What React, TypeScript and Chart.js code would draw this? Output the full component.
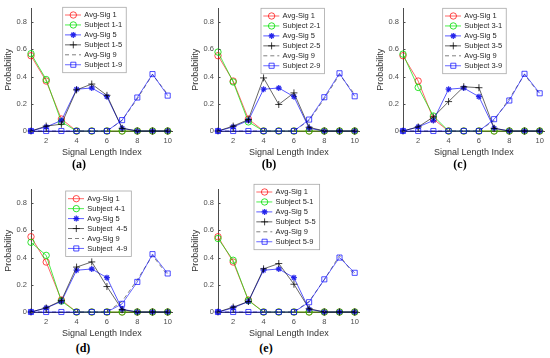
import React, { useEffect, useRef } from 'react';
import { Chart, registerables } from 'chart.js';
import { drawPoint } from 'chart.js/helpers';

Chart.register(...registerables);

// ---------------- data ----------------
const signalIndex = [1, 2, 3, 4, 5, 6, 7, 8, 9, 10];
const xTickValues = [2, 4, 6, 8, 10];
const yTickValues = [0, 0.2, 0.4, 0.6, 0.8];

const avgSig1 = [0.553, 0.367, 0.088, 0, 0, 0, 0, 0, 0, 0];
const avgSig5 = [0, 0.03, 0.077, 0.307, 0.316, 0.252, 0.02, 0, 0, 0];
const avgSig9 = [0, 0, 0, 0, 0, 0, 0.078, 0.237, 0.415, 0.27];

const subject1_1 = [0.568, 0.378, 0.067, 0, 0, 0, 0, 0, 0, 0];
const subject1_5 = [0, 0.036, 0.05, 0.302, 0.345, 0.262, 0.02, 0, 0, 0];
const subject1_9 = [0, 0, 0, 0, 0, 0, 0.08, 0.246, 0.418, 0.26];

const subject2_1 = [0.58, 0.36, 0.067, 0, 0, 0, 0, 0, 0, 0];
const subject2_5 = [0, 0.036, 0.084, 0.39, 0.195, 0.28, 0.027, 0, 0, 0];
const subject2_9 = [0, 0, 0, 0, 0, 0, 0.084, 0.248, 0.424, 0.255];

const subject3_1 = [0.565, 0.32, 0.11, 0, 0, 0, 0, 0, 0, 0];
const subject3_5 = [0, 0.03, 0.103, 0.216, 0.325, 0.318, 0.02, 0, 0, 0];
const subject3_9 = [0, 0, 0, 0, 0, 0, 0.087, 0.224, 0.42, 0.277];

const subject4_1 = [0.512, 0.416, 0.08, 0, 0, 0, 0, 0, 0, 0];
const subject4_5 = [0, 0.03, 0.084, 0.33, 0.368, 0.187, 0.017, 0, 0, 0];
const subject4_9 = [0, 0, 0, 0, 0, 0, 0.06, 0.221, 0.425, 0.283];

const subject5_1 = [0.54, 0.38, 0.084, 0, 0, 0, 0, 0, 0, 0];
const subject5_5 = [0, 0.036, 0.077, 0.317, 0.356, 0.204, 0.024, 0, 0, 0];
const subject5_9 = [0, 0, 0, 0, 0, 0, 0.072, 0.24, 0.4, 0.288];

const subject1Series = [subject1_1, subject2_1, subject3_1, subject4_1, subject5_1];
const subject5Series = [subject1_5, subject2_5, subject3_5, subject4_5, subject5_5];
const subject9Series = [subject1_9, subject2_9, subject3_9, subject4_9, subject5_9];

const subject1Labels = ['Subject 1-1', 'Subject 2-1', 'Subject 3-1', 'Subject 4-1', 'Subject 5-1'];
const subject5Labels = ['Subject 1-5', 'Subject 2-5', 'Subject 3-5', 'Subject  4-5', 'Subject  5-5'];
const subject9Labels = ['Subject 1-9', 'Subject 2-9', 'Subject 3-9', 'Subject  4-9', 'Subject 5-9'];
const avgLabels = ['Avg-Sig 1', 'Avg-Sig 5', 'Avg-Sig 9'];
const panelCaptions = ['(a)', '(b)', '(c)', '(d)', '(e)'];
const xTitle = 'Signal Length Index';
const yTitle = 'Probability';

// ---------------- layout ----------------
const CANVAS_W = 178;
const CANVAS_H = 158;
const panels = [
  { left: 0, top: 0, legendX: 62.7, legendY: 7.3, capX: 79, capY: 164 },
  { left: 187, top: 0, legendX: 74, legendY: 8.3, capX: 269, capY: 164 },
  { left: 372, top: 0, legendX: 70.7, legendY: 8.3, capX: 460, capY: 164 },
  { left: 0, top: 181, legendX: 65.7, legendY: 10, capX: 83, capY: 348 },
  { left: 187, top: 181, legendX: 67, legendY: 3.3, capX: 266, capY: 348 },
];

const FONT = '"Liberation Sans", Arial, Helvetica, sans-serif';

const toPoints = (ys: number[]) => signalIndex.map((x, i) => ({ x, y: ys[i] }));

function makeDatasets(p: number) {
  const base = { borderWidth: 1, pointBorderWidth: 1, pointBackgroundColor: 'rgba(0,0,0,0)', clip: false, tension: 0 };
  return [
    { ...base, label: avgLabels[0], data: toPoints(avgSig1), borderColor: 'rgba(255,0,0,0.6)', pointBorderColor: 'rgba(255,0,0,0.7)', pointStyle: 'circle', pointRadius: 3.2, order: 6 },
    { ...base, label: subject1Labels[p], data: toPoints(subject1Series[p]), borderColor: 'rgba(0,230,0,0.7)', pointBorderColor: 'rgba(0,220,0,0.8)', pointStyle: 'circle', pointRadius: 3.2, order: 5 },
    { ...base, label: avgLabels[1], data: toPoints(avgSig5), borderColor: 'rgba(0,0,255,0.65)', pointBorderColor: 'rgba(0,0,230,0.8)', pointStyle: 'star', pointRadius: 3, pointBorderWidth: 1.3, order: 4 },
    { ...base, label: subject5Labels[p], data: toPoints(subject5Series[p]), borderColor: 'rgba(0,0,0,0.6)', pointBorderColor: 'rgba(0,0,0,0.75)', pointStyle: 'cross', pointRadius: 3.5, order: 3 },
    { ...base, label: avgLabels[2], data: toPoints(avgSig9), borderColor: 'rgba(0,0,0,0.5)', borderDash: [4, 3], pointRadius: 0, pointStyle: false, order: 2 },
    { ...base, label: subject9Labels[p], data: toPoints(subject9Series[p]), borderColor: 'rgba(0,0,255,0.6)', pointBorderColor: 'rgba(0,0,255,0.7)', pointStyle: 'rect', pointRadius: 3.6, order: 1 },
  ];
}

function Panel({ index }: { index: number }) {
  const ref = useRef<HTMLCanvasElement>(null);
  const cfg = panels[index];
  useEffect(() => {
    if (!ref.current) return;
    const legendPlugin = {
      id: 'boxLegend',
      afterDraw(chart: any) {
        const ctx = chart.ctx as CanvasRenderingContext2D;
        const sets = chart.data.datasets as any[];
        ctx.save();
        ctx.font = `7.5px ${FONT}`;
        let maxW = 0;
        sets.forEach((d) => { maxW = Math.max(maxW, ctx.measureText(d.label).width); });
        const x = cfg.legendX, y = cfg.legendY;
        const w = 21.6 + maxW + 4;
        const h = 65.4;
        ctx.fillStyle = '#ffffff';
        ctx.fillRect(x, y, w, h);
        ctx.strokeStyle = '#a8a8a8';
        ctx.lineWidth = 0.8;
        ctx.strokeRect(x, y, w, h);
        sets.forEach((d, i) => {
          const ry = y + 7.7 + i * 9.95;
          ctx.save();
          ctx.strokeStyle = d.borderColor;
          ctx.lineWidth = 1;
          ctx.setLineDash(d.borderDash || []);
          ctx.beginPath();
          ctx.moveTo(x + 2.3, ry);
          ctx.lineTo(x + 18.3, ry);
          ctx.stroke();
          ctx.setLineDash([]);
          if (d.pointStyle) {
            ctx.strokeStyle = d.pointBorderColor;
            ctx.fillStyle = 'rgba(0,0,0,0)';
            ctx.lineWidth = d.pointBorderWidth;
            drawPoint(ctx, { pointStyle: d.pointStyle, rotation: 0, radius: d.pointRadius, borderWidth: d.pointBorderWidth }, x + 10.6, ry);
          }
          ctx.restore();
          ctx.fillStyle = '#262626';
          ctx.textBaseline = 'middle';
          ctx.textAlign = 'left';
          ctx.fillText(d.label, x + 21.6, ry + 0.3);
        });
        ctx.restore();
      },
    };
    const tickPlugin = {
      id: 'inTicks',
      afterDatasetsDraw(chart: any) {
        const ctx = chart.ctx as CanvasRenderingContext2D;
        const { left, bottom } = chart.chartArea;
        const xs = chart.scales.x, ys = chart.scales.y;
        ctx.save();
        ctx.strokeStyle = '#4d4d4d';
        ctx.lineWidth = 1;
        ctx.beginPath();
        xTickValues.forEach((v) => {
          const px = Math.round(xs.getPixelForValue(v)) + 0.5;
          ctx.moveTo(px, bottom);
          ctx.lineTo(px, bottom - 2.5);
        });
        yTickValues.forEach((v) => {
          const py = Math.round(ys.getPixelForValue(v)) + 0.5;
          ctx.moveTo(left, py);
          ctx.lineTo(left + 2.5, py);
        });
        ctx.stroke();
        ctx.restore();
      },
    };
    const chart = new Chart(ref.current, {
      type: 'line',
      data: { datasets: makeDatasets(index) },
      options: {
        responsive: false,
        animation: false,
        devicePixelRatio: 1,
        layout: { padding: { left: 0, top: 6, right: CANVAS_W - 31 - 141.7, bottom: 0 } },
        plugins: { legend: { display: false }, tooltip: { enabled: false } },
        scales: {
          x: {
            type: 'linear',
            min: 1,
            max: 10.33,
            afterBuildTicks: (s: any) => { s.ticks = xTickValues.map((v) => ({ value: v })); },
            afterFit: (s: any) => { s.height = 27; },
            grid: { display: false, drawTicks: false },
            border: { display: true, color: '#4d4d4d', width: 1 },
            ticks: { padding: 5, color: '#4d4d4d', font: { family: FONT, size: 7.5 }, maxRotation: 0, callback: (v: any) => String(v) },
            title: { display: true, text: xTitle, color: '#333', font: { family: FONT, size: 9 }, padding: 0 },
          },
          y: {
            type: 'linear',
            min: 0,
            max: 0.9,
            afterBuildTicks: (s: any) => { s.ticks = yTickValues.map((v) => ({ value: v })); },
            afterFit: (s: any) => { s.width = 31; },
            grid: { display: false, drawTicks: false },
            border: { display: true, color: '#4d4d4d', width: 1 },
            ticks: { padding: 4, color: '#4d4d4d', font: { family: FONT, size: 7.5 }, callback: (v: any) => String(v) },
            title: { display: true, text: yTitle, color: '#333', font: { family: FONT, size: 9 }, padding: { top: 3, bottom: 0 } },
          },
        },
      },
      plugins: [tickPlugin, legendPlugin],
    } as any);
    return () => chart.destroy();
  }, [index]);
  return (
    <canvas
      ref={ref}
      width={CANVAS_W}
      height={CANVAS_H}
      style={{ position: 'absolute', left: cfg.left, top: cfg.top, width: CANVAS_W, height: CANVAS_H }}
    />
  );
}

const captionStyle = {
  position: 'absolute' as const,
  transform: 'translate(-50%, -50%)',
  fontFamily: '"Liberation Serif", "Times New Roman", serif',
  fontWeight: 'bold' as const,
  fontSize: 12,
  color: '#000',
  lineHeight: 1,
  whiteSpace: 'nowrap' as const,
};

export default function App() {
  return (
    <div style={{ position: 'fixed', left: 0, top: 0, width: 550, height: 358, background: '#fff', overflow: 'hidden' }}>
      {panels.map((_, i) => (
        <Panel key={i} index={i} />
      ))}
      {panels.map((p, i) => (
        <div key={'c' + i} style={{ ...captionStyle, left: p.capX, top: p.capY }}>
          {panelCaptions[i]}
        </div>
      ))}
    </div>
  );
}
